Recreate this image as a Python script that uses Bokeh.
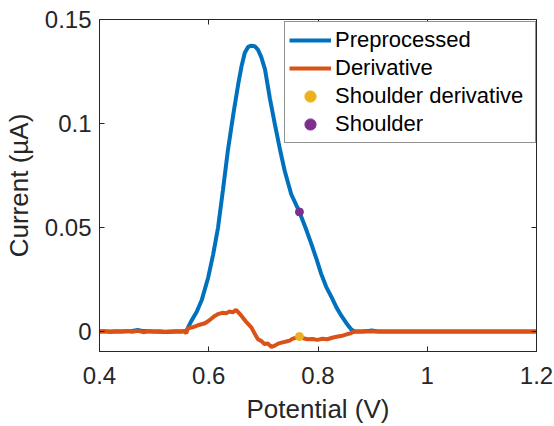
from bokeh.plotting import figure
from bokeh.models import LinearAxis, FixedTicker, Legend, LegendItem, Range1d
from bokeh.embed import file_html
from bokeh.resources import INLINE

# ---- data ----
pre_x = [0.40, 0.42, 0.44, 0.46, 0.47, 0.48, 0.50, 0.52, 0.54, 0.55, 0.559, 0.568,
         0.578, 0.587, 0.599, 0.608, 0.617, 0.626, 0.635, 0.645, 0.654, 0.660, 0.666,
         0.672, 0.678, 0.684, 0.690, 0.696, 0.703, 0.712, 0.721, 0.730, 0.739, 0.751,
         0.766, 0.777, 0.788, 0.797, 0.806, 0.815, 0.825, 0.834, 0.843, 0.852, 0.861,
         0.867, 0.88, 0.89, 0.898, 0.91, 1.0, 1.2]
pre_y = [0, 0, 0, 0.0003, 0.0008, 0.0002, 0, -0.0002, 0, 0, 0.0003, 0.005,
         0.0095, 0.015, 0.026, 0.037, 0.050, 0.068, 0.087, 0.1045, 0.119, 0.1275, 0.134,
         0.1368, 0.1374, 0.1372, 0.1355, 0.132, 0.126, 0.112, 0.0997, 0.088, 0.0773, 0.066,
         0.0575, 0.050, 0.042, 0.035, 0.0276, 0.0215, 0.0164, 0.0115, 0.0075, 0.004, 0.001,
         0, 0, 0.0002, 0.0005, 0, 0, 0]

der_x = [0.40, 0.41, 0.42, 0.43, 0.44, 0.45, 0.46, 0.47, 0.48, 0.49, 0.50, 0.51, 0.52,
         0.53, 0.54, 0.55, 0.555, 0.559, 0.562, 0.57, 0.58, 0.593, 0.60, 0.611, 0.618,
         0.626, 0.632, 0.638, 0.644, 0.650, 0.655, 0.660, 0.668, 0.678, 0.684, 0.690,
         0.696, 0.702, 0.708, 0.715, 0.721, 0.727, 0.735, 0.742, 0.748, 0.754, 0.760,
         0.766, 0.773, 0.781, 0.790, 0.799, 0.808, 0.817, 0.826, 0.836, 0.845, 0.854,
         0.860, 0.867, 0.88, 0.9, 1.0, 1.2]
der_y = [0, 0.0002, -0.0002, 0.0001, 0, 0.0002, -0.0001, 0.0004, -0.0003, 0.0001, 0,
         0.0001, -0.0001, 0, 0.0001, 0, 0.0002, -0.0008, 0.0016, 0.002, 0.003, 0.004,
         0.0052, 0.0075, 0.0085, 0.009, 0.0088, 0.0096, 0.0092, 0.0104, 0.009, 0.0075,
         0.0048, 0.002, -0.001, -0.0037, -0.0045, -0.006, -0.0058, -0.0074, -0.0068,
         -0.0058, -0.0052, -0.0048, -0.0044, -0.0034, -0.003, -0.0024, -0.0032, -0.0037,
         -0.0036, -0.004, -0.0035, -0.0037, -0.003, -0.0024, -0.002, -0.0012, -0.0008,
         0, 0, 0, 0, 0]

shoulder_der_x = [0.766]
shoulder_der_y = [-0.0024]
shoulder_x = [0.766]
shoulder_y = [0.0575]

x_ticks = [0.4, 0.6, 0.8, 1.0, 1.2]
x_tick_labels = ["0.4", "0.6", "0.8", "1", "1.2"]
y_ticks = [0, 0.05, 0.1, 0.15]
y_tick_labels = ["0", "0.05", "0.1", "0.15"]

series_names = ["Preprocessed", "Derivative", "Shoulder derivative", "Shoulder"]

# ---- style ----
FONT = "Liberation Sans"
AX = "#262626"
C_BLUE = "#0072BD"
C_ORANGE = "#D95319"
C_YELLOW = "#EDB120"
C_PURPLE = "#7E2F8E"

p = figure(width=554, height=426, output_backend="svg", toolbar_location=None,
           x_range=Range1d(0.4, 1.2), y_range=Range1d(-0.0096, 0.15),
           min_border_left=98, min_border_right=19, min_border_top=19,
           min_border_bottom=75)
p.frame_width = 437
p.frame_height = 332
p.xgrid.visible = False
p.ygrid.visible = False
p.outline_line_color = AX
p.outline_line_width = 1
p.background_fill_color = "white"
p.border_fill_color = "white"

r_pre = p.line(pre_x, pre_y, line_color=C_BLUE, line_width=4)
r_der = p.line(der_x, der_y, line_color=C_ORANGE, line_width=4)
r_sd = p.scatter(shoulder_der_x, shoulder_der_y, marker="circle", size=8,
                 fill_color=C_YELLOW, line_color=C_YELLOW)
r_sh = p.scatter(shoulder_x, shoulder_y, marker="circle", size=8,
                 fill_color=C_PURPLE, line_color=C_PURPLE)

def style_axis(ax):
    ax.axis_line_color = AX
    ax.major_tick_line_color = AX
    ax.major_tick_in = 5
    ax.major_tick_out = 0
    ax.minor_tick_line_color = None
    ax.major_label_text_font = FONT
    ax.major_label_text_color = AX
    ax.major_label_text_font_size = "24px"
    ax.axis_label_text_font = FONT
    ax.axis_label_text_color = AX
    ax.axis_label_text_font_size = "26px"
    ax.axis_label_text_font_style = "normal"

p.xaxis.ticker = FixedTicker(ticks=x_ticks)
p.xaxis.major_label_overrides = {t: l for t, l in zip(x_ticks, x_tick_labels)}
p.yaxis.ticker = FixedTicker(ticks=y_ticks)
p.yaxis.major_label_overrides = {t: l for t, l in zip(y_ticks, y_tick_labels)}
p.xaxis.axis_label = "Potential (V)"
p.yaxis.axis_label = "Current (µA)"
style_axis(p.xaxis[0])
style_axis(p.yaxis[0])
p.xaxis.major_label_standoff = 15
p.yaxis.major_label_standoff = 8
p.xaxis.axis_label_standoff = 7
p.yaxis.axis_label_standoff = 8

# box ticks on top and right: minor ticks only, so no labels are drawn
def box_axis(ticks):
    ax = LinearAxis(ticker=FixedTicker(ticks=[], minor_ticks=ticks))
    ax.axis_line_color = AX
    ax.major_tick_line_color = None
    ax.minor_tick_line_color = AX
    ax.minor_tick_in = 5
    ax.minor_tick_out = 0
    return ax

p.add_layout(box_axis(x_ticks), "above")
p.add_layout(box_axis(y_ticks), "right")

legend = Legend(items=[
    LegendItem(label=series_names[0], renderers=[r_pre]),
    LegendItem(label=series_names[1], renderers=[r_der]),
    LegendItem(label=series_names[2], renderers=[r_sd]),
    LegendItem(label=series_names[3], renderers=[r_sh]),
], location=(185, 208))
legend.label_text_font = FONT
legend.label_text_font_size = "22px"
legend.label_text_color = "black"
legend.glyph_width = 42
legend.glyph_height = 28
legend.label_height = 28
legend.label_width = 196
legend.label_standoff = 4
legend.spacing = 0
legend.padding = 4
legend.margin = 0
legend.border_line_color = AX
legend.border_line_width = 1
legend.background_fill_color = "white"
legend.background_fill_alpha = 1
p.add_layout(legend, "center")

open("out.html", "w").write(file_html(p, INLINE))
